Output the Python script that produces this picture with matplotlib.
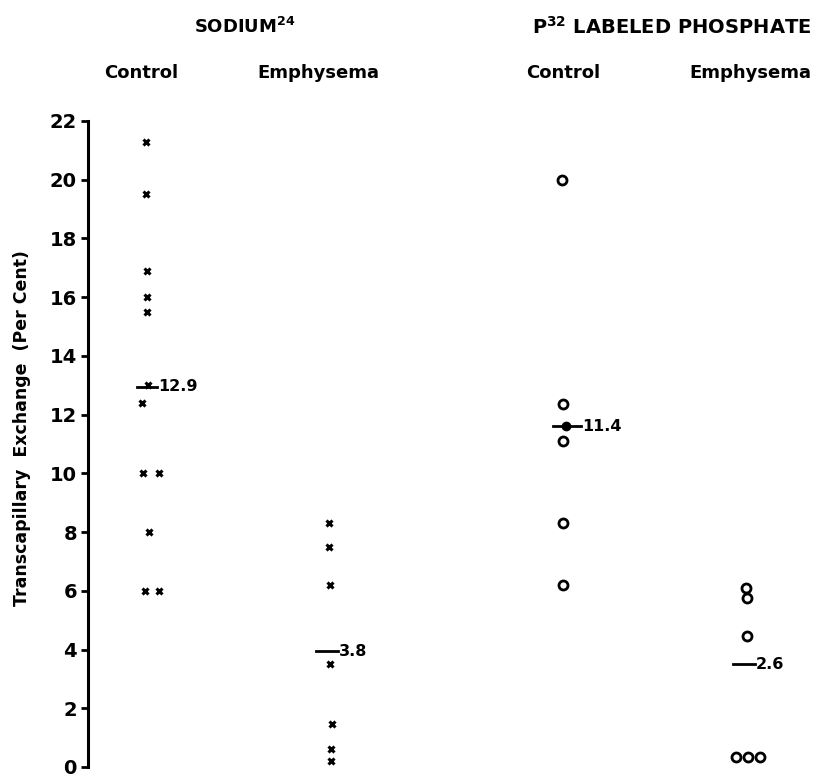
import matplotlib.pyplot as plt
import numpy as np

# values (per cent)
na_ctrl = [21.3, 19.5, 16.9, 16.0, 15.5, 13.0, 12.4, 10.0, 10.0, 8.0, 6.0, 6.0]
na_emph = [8.3, 7.5, 6.2, 3.5, 1.45, 0.6, 0.2]
p_ctrl = [20.0, 12.35, 11.1, 8.3, 6.2]
p_emph = [6.1, 5.75, 4.45, 0.35, 0.35, 0.35]

# where the mean lines were drawn, and what they say
mean_pos = [12.95, 3.95, 11.6, 3.5]
mean_txt = ['12.9', '3.8', '11.4', '2.6']

groups = ['Control', 'Emphysema', 'Control', 'Emphysema']
titles = ['SODIUM$^{\\mathbf{24}}$', 'P$^{\\mathbf{32}}$ LABELED PHOSPHATE']
yticks = np.arange(0, 23, 2)

# layout (pixels of an 825x778 canvas)
W, H = 825, 778
xcol = [150, 330, 563, 747]
# small sideways offsets so the pairs sit side by side like the original
na_ctrl_dx = [-4, -4, -3, -3, -3, -2, -8, -7, 9, -1, -5, 9]
na_emph_dx = [-1, -1, 0, 0, 2, 1, 1]
p_ctrl_dx = [-1, 0, 0, 0, 0]
p_emph_dx = [-1, 0, 0, -11, 1, 13]

fig = plt.figure(figsize=(W / 100, H / 100), dpi=100)
y0, y22 = 767, 121
ax = fig.add_axes([88 / W, (H - y0) / H, (W - 88) / W, (y0 - y22) / H])
ax.set_xlim(88, W)
ax.set_ylim(0, 22)
for s in ['top', 'right', 'bottom']:
    ax.spines[s].set_visible(False)
ax.spines['left'].set_linewidth(2.2)
ax.set_xticks([])
ax.set_yticks(yticks)
ax.set_yticklabels(['%d' % t for t in yticks], fontsize=14, fontweight='bold')
ax.tick_params(axis='y', length=5, width=2, pad=3)
ax.set_ylabel('Transcapillary  Exchange  (Per Cent)', fontsize=12.5,
              fontweight='bold')
ax.yaxis.set_label_coords(-0.078, 0.525)

xkw = dict(marker='x', ms=5, mew=2.2, color='black', ls='none', clip_on=False)
okw = dict(marker='o', ms=6.5, mew=2, mfc='white', mec='black', ls='none', clip_on=False)

ax.plot(np.add(xcol[0], na_ctrl_dx), na_ctrl, **xkw)
ax.plot(np.add(xcol[1], na_emph_dx), na_emph, **xkw)
ax.plot(np.add(xcol[2], p_ctrl_dx), p_ctrl, **okw)
ax.plot(np.add(xcol[3], p_emph_dx), p_emph, **okw)

# mean bars with labels
half = [10, 11, 14, 11]
for i in range(4):
    xc = xcol[i] - 3 if i != 2 else xcol[i] + 4
    ax.plot([xc - half[i], xc + half[i]], [mean_pos[i], mean_pos[i]],
            color='black', lw=2)
    ax.text(xc + half[i] + 1, mean_pos[i], mean_txt[i], fontsize=11.5,
            fontweight='bold', va='center', ha='left')
# filled mean dot for phosphate control
ax.plot([xcol[2] + 3], [mean_pos[2]], marker='o', ms=6, color='black', ls='none')

# headers
fig.text(245 / W, 1 - 27 / H, titles[0], fontsize=13, fontweight='bold',
         ha='center', va='center')
fig.text(672 / W, 1 - 27 / H, titles[1], fontsize=14, fontweight='bold',
         ha='center', va='center')
hx = [141, 318, 563, 750]
for g, x in zip(groups, hx):
    fig.text(x / W, 1 - 73 / H, g, fontsize=13, fontweight='bold',
             ha='center', va='center')

plt.savefig('out.png', dpi=100)
